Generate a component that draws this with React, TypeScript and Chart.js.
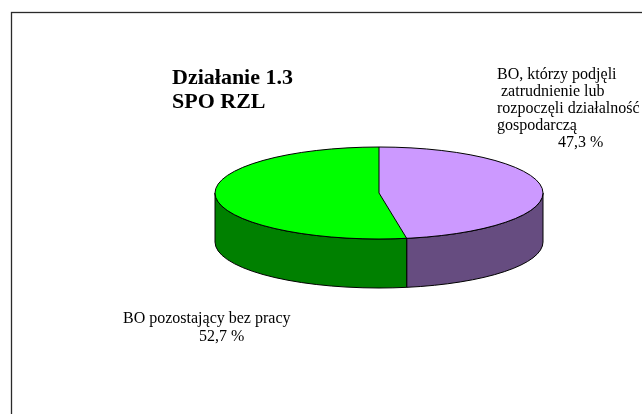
import React, { useEffect, useRef } from "react";
import { Chart, registerables } from "chart.js";

Chart.register(...registerables);

// ---- data ----
const titleLines = ["Działanie 1.3", "SPO RZL"];
const categories = [
  ["BO, którzy podjęli", " zatrudnienie lub", "rozpoczęli działalność", "gospodarczą"],
  ["BO pozostający bez pracy"],
];
const values = [47.3, 52.7];
const topColors = ["#CC99FF", "#00FF00"];
const sideColors = ["#664C80", "#008000"];

const fmt = (v: number) => v.toFixed(1).replace(".", ",") + " %";

// ---- style / layout constants ----
const SERIF = '"Liberation Serif", "Times New Roman", serif';
const labelLayout = [
  { xs: [497, 497, 497, 497, 558], y0: 78.5, lh: 17.2 },
  { xs: [123, 199], y0: 322.5, lh: 18.5 },
];
const titleLayout = { x: 172, y0: 84, lh: 24 };

const pie3d = {
  id: "pie3d",
  beforeDraw(chart: any, _a: any, opts: any) {
    const ctx = chart.ctx;
    ctx.save();
    ctx.fillStyle = "#fff";
    ctx.fillRect(0, 0, chart.width, chart.height);
    ctx.strokeStyle = "#2a2a2a";
    ctx.lineWidth = 1.3;
    ctx.strokeRect(opts.frameX + 0.5, opts.frameY + 0.5, chart.width * 2, chart.height * 2);
    ctx.restore();
  },
  beforeDatasetsDraw(chart: any, _a: any, opts: any) {
    const ctx = chart.ctx;
    const arcs = chart.getDatasetMeta(0).data;
    if (!arcs.length) return;
    const cx = arcs[0].x, cy = arcs[0].y, r = arcs[0].outerRadius;
    const rx = r, ry = r * opts.tilt, d = opts.depth;
    ctx.save();
    ctx.lineWidth = 1;
    ctx.strokeStyle = "#000";
    arcs.forEach((arc: any, i: number) => {
      for (const k of [-2 * Math.PI, 0, 2 * Math.PI]) {
        const s = Math.max(arc.startAngle, k);
        const e = Math.min(arc.endAngle, k + Math.PI);
        if (e <= s) continue;
        ctx.beginPath();
        ctx.ellipse(cx, cy, rx, ry, 0, s, e, false);
        ctx.lineTo(cx + rx * Math.cos(e), cy + ry * Math.sin(e) + d);
        ctx.ellipse(cx, cy + d, rx, ry, 0, e, s, true);
        ctx.closePath();
        ctx.fillStyle = sideColors[i];
        ctx.fill();
        ctx.stroke();
      }
    });
    ctx.restore();
    // squash the top face
    ctx.save();
    ctx.translate(cx, cy);
    ctx.scale(1, opts.tilt);
    ctx.translate(-cx, -cy);
  },
  afterDatasetsDraw(chart: any, _a: any, opts: any) {
    const ctx = chart.ctx;
    const arcs = chart.getDatasetMeta(0).data;
    if (!arcs.length) return;
    ctx.restore();
    const cx = arcs[0].x, cy = arcs[0].y, r = arcs[0].outerRadius;
    const rx = r, ry = r * opts.tilt;
    ctx.save();
    ctx.lineWidth = 1;
    ctx.strokeStyle = "#000";
    arcs.forEach((arc: any) => {
      ctx.beginPath();
      ctx.moveTo(cx, cy);
      ctx.lineTo(cx + rx * Math.cos(arc.startAngle), cy + ry * Math.sin(arc.startAngle));
      ctx.stroke();
    });
    ctx.beginPath();
    ctx.ellipse(cx, cy, rx, ry, 0, 0, Math.PI * 2);
    ctx.stroke();
    ctx.restore();
  },
  afterDraw(chart: any) {
    const ctx = chart.ctx;
    ctx.save();
    ctx.fillStyle = "#000";
    ctx.textBaseline = "alphabetic";
    ctx.textAlign = "left";
    ctx.font = "bold 22px " + SERIF;
    titleLines.forEach((t, i) => ctx.fillText(t, titleLayout.x, titleLayout.y0 + i * titleLayout.lh));
    ctx.font = "16px " + SERIF;
    categories.forEach((lines, i) => {
      const L = labelLayout[i];
      const all = [...lines, fmt(values[i])];
      all.forEach((t, j) => ctx.fillText(t, L.xs[j], L.y0 + j * L.lh));
    });
    ctx.restore();
  },
};

export default function App() {
  const ref = useRef<HTMLCanvasElement>(null);
  useEffect(() => {
    if (!ref.current) return;
    const chart = new Chart(ref.current, {
      type: "pie",
      data: {
        labels: categories.map((c) => c.join(" ")),
        datasets: [
          {
            data: values,
            backgroundColor: topColors,
            borderWidth: 0,
            clip: false,
          } as any,
        ],
      },
      options: {
        responsive: false,
        animation: false,
        events: [],
        radius: 164,
        layout: { padding: { left: 116, right: 0, top: 0, bottom: 28 } },
        plugins: {
          legend: { display: false },
          tooltip: { enabled: false },
          pie3d: { tilt: 46 / 164, depth: 49, frameX: 11, frameY: 12 },
        } as any,
      } as any,
      plugins: [pie3d],
    });
    return () => chart.destroy();
  }, []);
  return (
    <div style={{ position: "fixed", left: 0, top: 0, width: 642, height: 414, background: "#fff" }}>
      <canvas ref={ref} width={642} height={414} style={{ display: "block", width: 642, height: 414 }} />
    </div>
  );
}
